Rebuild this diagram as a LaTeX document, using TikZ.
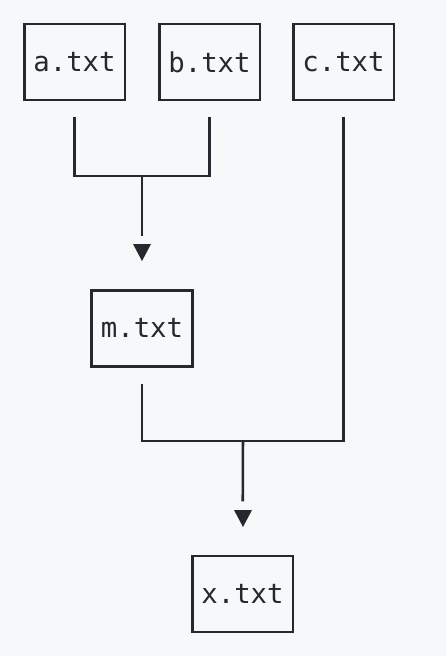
\documentclass[tikz,border=0pt]{standalone}
\usepackage{fontspec}
\setmonofont{DejaVu Sans Mono}
\usetikzlibrary{calc}
\definecolor{bg}{HTML}{F6F8FA}
\definecolor{ink}{HTML}{24292F}
\begin{document}
\begin{tikzpicture}[x=0.75pt,y=-0.75pt,
  file/.style={draw=ink,line width=2pt,minimum width=75.5pt,minimum height=57pt,
    inner sep=0pt,text=ink,font=\ttfamily\fontsize{20.5pt}{24pt}\selectfont},
  conn/.style={draw=ink,line width=1.9pt},
  tipfill/.style={fill=ink}]
\fill[bg] (0,0) rectangle (446,656);
\useasboundingbox (0,0) rectangle (446,656);
\node[file] (a) at (74.5,62) {a.txt};
\node[file] (b) at (209.5,62) {b.txt};
\node[file] (c) at (343.5,62) {c.txt};
\node[file] (m) at (142,328.3) {m.txt};
\node[file] (x) at (242.5,594) {x.txt};
\coordinate (j1) at (142,176);
\coordinate (j2) at (243,441);
% a + b -> m
\draw[conn,shorten <=12pt,shorten >=12pt] (a.south) |- (j1) -| (b.south);
\draw[conn,shorten >=40pt] (j1) -- (m.north);
\fill[tipfill] (133,244) -- (151,244) -- (142,261) -- cycle;
% m + c -> x
\draw[conn,shorten <=12pt,shorten >=12pt] (m.south) |- (j2) -| (c.south);
\draw[conn,shorten >=40pt] (j2) -- (x.north);
\fill[tipfill] (234,510) -- (252,510) -- (243,527) -- cycle;
\end{tikzpicture}
\end{document}
